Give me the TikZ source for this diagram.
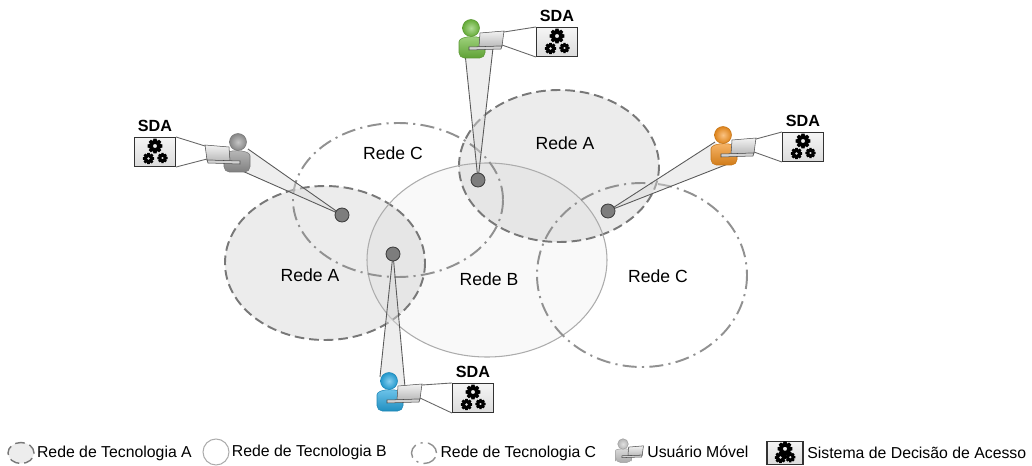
\documentclass[tikz,border=0pt]{standalone}
\usepackage{fontspec}
\setmainfont{Liberation Sans}
\usetikzlibrary{positioning,shapes.geometric}

\definecolor{netedge}{RGB}{120,120,120}
\definecolor{netdot}{RGB}{145,145,145}
\definecolor{apgray}{RGB}{125,125,125}
\definecolor{usrgreen}{RGB}{112,190,62}
\definecolor{usrorange}{RGB}{246,146,30}
\definecolor{usrblue}{RGB}{38,168,226}
\definecolor{usrgray}{RGB}{150,150,150}
\definecolor{usrlight}{RGB}{200,200,200}

\tikzset{
  pics/gear/.style={code={
    \fill[even odd rule] (-19:0.78)
      \foreach \a in {0,45,...,315}{ -- (\a-19:0.78) -- (\a-12:1) -- (\a+12:1) -- (\a+19:0.78) }
      -- cycle (0,0) circle (0.28);
  }},
  pics/gears/.style={code={
    \pic[scale=7.5] at (0,-6) {gear};
    \pic[scale=5.8] at (-6.5,6.5) {gear};
    \pic[scale=5.2] at (7.5,6) {gear};
  }},
  pics/user/.style={code={
    % body, head, then the laptop in front
    \shade[top color=#1!65!white,bottom color=#1!85!black,draw=#1!80!black,line width=.3pt,rounded corners=3pt]
      (-12,30) -- (-12,19) .. controls (-12,7) and (14,7) .. (14,19) -- (14,30) -- cycle;
    \shade[inner color=#1!55!white,outer color=#1!90!black,draw=#1!80!black,line width=.3pt] (0,0) circle (8.5);
    \shade[top color=gray!10,bottom color=gray!55,draw=gray!60!black,line width=.3pt]
      (9,5) -- (33,3) -- (31,18) -- (8,19) -- cycle;
    \fill[gray!35,draw=gray!60!black,line width=.3pt]
      (-2,19) -- (31,18) -- (30,21) -- (-2,22) -- cycle;
    \coordinate (-scr) at (33,4);
    \coordinate (-kbd) at (31,17);
  }}
}

\begin{document}
\begin{tikzpicture}[x=0.02cm,y=-0.02cm,font=\fontsize{10}{12}\selectfont]
  \tikzstyle{netA}=[draw=netedge,line width=1.1pt,dash pattern=on 5.5pt off 2.8pt]
  \tikzstyle{netB}=[draw=gray!65,line width=.6pt]
  \tikzstyle{netC}=[draw=netdot,line width=1.1pt,dash pattern=on 8pt off 3pt on 1.2pt off 3pt]
  \tikzstyle{ap}=[circle,draw=black!75,fill=apgray,inner sep=0pt,minimum size=.28cm,line width=.5pt]
  \tikzstyle{sda}=[draw=black!80,line width=.6pt,top color=gray!8,bottom color=gray!28,minimum width=.82cm,minimum height=.58cm,inner sep=0pt]
  \tikzstyle{sdalabel}=[font=\fontsize{9.2}{11}\selectfont\bfseries,inner sep=0pt]
  \tikzstyle{beam}=[fill=gray!30,fill opacity=.45]
  \tikzstyle{ray}=[draw=black!65,line width=.5pt]
  \tikzstyle{link}=[draw=black!60,line width=.5pt]
  \tikzstyle{keytext}=[font=\fontsize{9}{11}\selectfont,inner sep=0pt,anchor=west]

  \useasboundingbox (0,0) rectangle (1032,466);

  % coverage areas: fills first, outlines on top
  \fill[gray!5] (487,260) ellipse [x radius=120,y radius=97];
  \fill[black,opacity=.075] (325,263) ellipse [x radius=100,y radius=77];
  \fill[black,opacity=.075] (559,166) ellipse [x radius=100,y radius=76];
  \draw[netA] (325,263) ellipse [x radius=100,y radius=77];
  \draw[netA] (559,166) ellipse [x radius=100,y radius=76];
  \draw[netB] (487,260) ellipse [x radius=120,y radius=97];
  \draw[netC] (398,200) ellipse [x radius=105,y radius=77];
  \draw[netC] (642,275) ellipse [x radius=105,y radius=92];

  \node (netA1) at (310,275) {Rede A};
  \node (netC1) at (393,153) {Rede C};
  \node (netB)  at (489,279) {Rede B};
  \node (netA2) at (565,143) {Rede A};
  \node (netC2) at (658,276) {Rede C};

  % serving points and the beams from each user
  \coordinate (cell1) at (342,215);
  \coordinate (cell2) at (478,180);
  \coordinate (cell3) at (393,254);
  \coordinate (cell4) at (608,211);

  \coordinate (b1a) at (248,149); \coordinate (b1b) at (240,170);
  \coordinate (b2a) at (465,53);  \coordinate (b2b) at (493,48);
  \coordinate (b3a) at (380,377); \coordinate (b3b) at (405,387);
  \coordinate (b4a) at (715,142); \coordinate (b4b) at (733,162);

  \foreach \n in {1,...,4}{
    \fill[beam] (b\n a) -- (cell\n) -- (b\n b) -- cycle;
    \draw[ray] (b\n a) -- (cell\n) -- (b\n b);
  }
  \foreach \n in {1,...,4} \node[ap] (ap\n) at (cell\n) {};

  % mobile users
  \pic[xscale=-1] (usr1) at (238,142) {user=usrgray};
  \pic (usr2) at (471,28) {user=usrgreen};
  \pic (usr3) at (389,381) {user=usrblue};
  \pic (usr4) at (723,135) {user=usrorange};

  % decision boxes
  \node[sda] (sda1) at (155,152) {};
  \node[sda] (sda2) at (557,42) {};
  \node[sda] (sda3) at (473,398) {};
  \node[sda] (sda4) at (803,147) {};
  \foreach \n in {1,...,4}{
    \pic at (sda\n) {gears};
    \node[sdalabel,above=0.1cm of sda\n] (sdat\n) {SDA};
  }

  \draw[link] (usr1-scr) -- (sda1.north east);
  \draw[link] (usr1-kbd) -- (sda1.south east);
  \foreach \n in {2,3,4}{
    \draw[link] (usr\n-scr) -- (sda\n.north west);
    \draw[link] (usr\n-kbd) -- (sda\n.south west);
  }

  % legend
  \node[ellipse,netA,fill=gray!14,line width=.8pt,minimum width=.52cm,minimum height=.42cm,inner sep=0pt] (keyA) at (21,453) {};
  \node[keytext,right=0.04cm of keyA] (keyAt) {Rede de Tecnologia A};
  \node[circle,netB,minimum size=.52cm,inner sep=0pt] (keyB) at (216,452) {};
  \node[keytext,right=0.04cm of keyB] (keyBt) {Rede de Tecnologia B};
  \node[ellipse,netC,line width=.8pt,minimum width=.5cm,minimum height=.42cm,inner sep=0pt] (keyC) at (424,453) {};
  \node[keytext,right=0.06cm of keyC] (keyCt) {Rede de Tecnologia C};
  \pic[scale=.62] (keyU) at (623,444) {user=usrlight};
  \node[keytext] (keyUt) at (647,452) {Usuário Móvel};
  \node[sda,minimum width=.72cm,minimum height=.46cm] (keyS) at (785,453) {};
  \pic[scale=.7] at (keyS) {gears};
  \node[keytext,right=0.07cm of keyS] (keySt) {Sistema de Decisão de Acesso};
\end{tikzpicture}
\end{document}
